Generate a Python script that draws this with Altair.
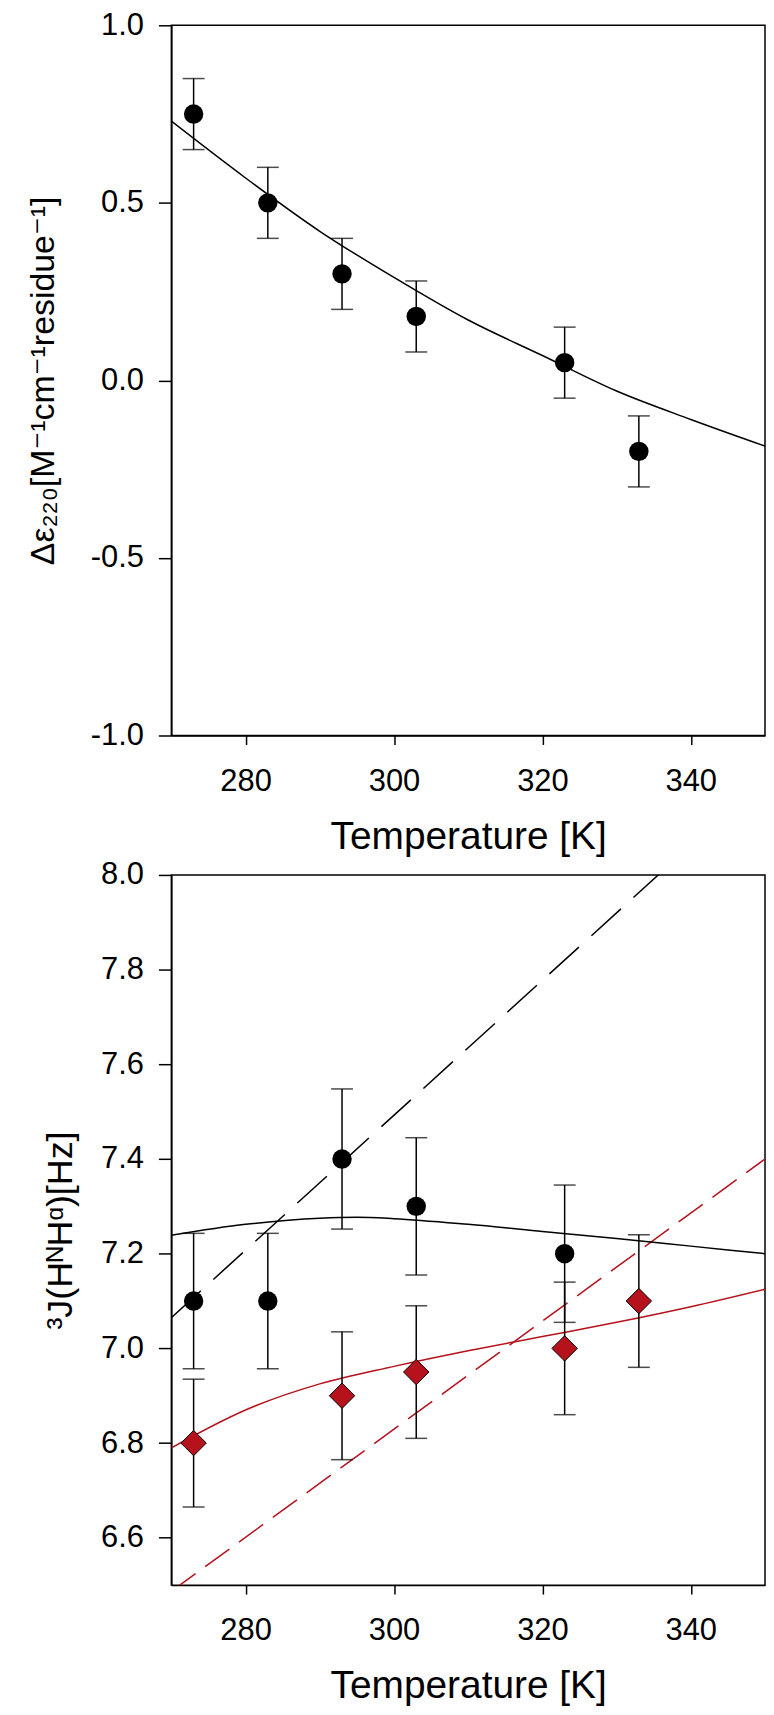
import altair as alt
import pandas as pd

# ---------------- data ----------------
# Top panel: CD signal vs temperature
cd_temp = [273, 283, 293, 303, 323, 333]
cd_value = [0.75, 0.50, 0.30, 0.18, 0.05, -0.20]
cd_err = [0.10, 0.10, 0.10, 0.10, 0.10, 0.10]
cd_fit_temp = [270, 280, 290, 300, 310, 320, 330, 340, 350]
cd_fit_value = [0.73, 0.57, 0.42, 0.29, 0.17, 0.07, -0.03, -0.11, -0.185]

# Bottom panel: 3J coupling vs temperature
jb_temp = [273, 283, 293, 303, 323]
jb_value = [7.10, 7.10, 7.40, 7.30, 7.20]
jb_err = [0.143, 0.143, 0.148, 0.145, 0.145]
jr_temp = [273, 293, 303, 323, 333]
jr_value = [6.80, 6.90, 6.95, 7.00, 7.10]
jr_err = [0.135, 0.135, 0.14, 0.14, 0.14]

jb_fit_temp = [270, 280, 290, 295, 300, 310, 320, 330, 340, 350]
jb_fit_value = [7.239, 7.262, 7.275, 7.277, 7.274, 7.262, 7.247, 7.232, 7.216, 7.20]
jb_lin_temp = [270, 350]
jb_lin_value = [7.065, 8.205]

jr_fit_temp = [270, 280, 290, 300, 310, 320, 330, 340, 350]
jr_fit_value = [6.79, 6.87, 6.925, 6.962, 6.995, 7.025, 7.055, 7.088, 7.125]
jr_lin_temp = [270, 350]
jr_lin_value = [6.487, 7.40]

x_ticks = [280, 300, 320, 340]
top_y_ticks = [-1.0, -0.5, 0.0, 0.5, 1.0]
bot_y_ticks = [6.6, 6.8, 7.0, 7.2, 7.4, 7.6, 7.8, 8.0]

RED = "#B5121B"
FONT = "Liberation Sans, Arial, DejaVu Sans, sans-serif"
W, H = 596, 713


def pts(t, v, e=None):
    d = pd.DataFrame({"T": t, "v": v})
    if e is not None:
        d["lo"] = [a - b for a, b in zip(v, e)]
        d["hi"] = [a + b for a, b in zip(v, e)]
    return d


x_axis = alt.Axis(values=x_ticks, format="d", title="Temperature [K]",
                  tickSize=9, labelPadding=22, titlePadding=21)
x_enc = alt.X("T:Q", scale=alt.Scale(domain=[270, 350], nice=False, zero=False), axis=x_axis)


def y_enc(field, domain, ticks, title, tpad, tsize):
    return alt.Y(field, type="quantitative",
                 scale=alt.Scale(domain=domain, nice=False, zero=False),
                 axis=alt.Axis(values=ticks, title=title, tickSize=13, labelPadding=15,
                               titlePadding=tpad, titleFontSize=tsize,
                               labelExpr="replace(format(datum.value, '.1f'), '\u2212', '-')"))


def errbars(df, ya):
    base = alt.Chart(df)
    rule = base.mark_rule(color="black", strokeWidth=1.5).encode(
        x=x_enc, y=y_enc("lo", *ya), y2="hi")
    cap_lo = base.mark_tick(color="black", orient="horizontal", size=22, thickness=1.5).encode(
        x=x_enc, y=y_enc("lo", *ya))
    cap_hi = base.mark_tick(color="black", orient="horizontal", size=22, thickness=1.5).encode(
        x=x_enc, y=y_enc("hi", *ya))
    return [rule, cap_lo, cap_hi]


def line(df, ya, color, dash=None):
    kw = dict(color=color, strokeWidth=1.5, clip=True, interpolate="monotone")
    if dash:
        kw["strokeDash"] = dash
    return alt.Chart(df).mark_line(**kw).encode(x=x_enc, y=y_enc("v", *ya))


# ---------------- top panel ----------------
TA = ([-1.0, 1.0], top_y_ticks, "Δε₂₂₀[M⁻¹cm⁻¹residue⁻¹]", 30, 34)
top_layers = errbars(pts(cd_temp, cd_value, cd_err), TA)
top_layers.append(line(pts(cd_fit_temp, cd_fit_value), TA, "black"))
top_layers.append(alt.Chart(pts(cd_temp, cd_value)).mark_point(
    shape="circle", filled=True, color="black", size=380, opacity=1).encode(
    x=x_enc, y=y_enc("v", *TA)))
top = alt.layer(*top_layers).properties(width=W, height=H)

# ---------------- bottom panel ----------------
BA = ([6.5, 8.0], bot_y_ticks, "³J(HᴺHᵅ)[Hz]", 21, 36)
bot_layers = []
bot_layers.append(line(pts(jb_lin_temp, jb_lin_value), BA, "black", [40, 17]))
bot_layers.append(line(pts(jr_lin_temp, jr_lin_value), BA, RED, [30, 12]))
bot_layers.append(line(pts(jb_fit_temp, jb_fit_value), BA, "black"))
bot_layers.append(line(pts(jr_fit_temp, jr_fit_value), BA, RED))
bot_layers += errbars(pts(jb_temp, jb_value, jb_err), BA)
bot_layers += errbars(pts(jr_temp, jr_value, jr_err), BA)
bot_layers.append(alt.Chart(pts(jb_temp, jb_value)).mark_point(
    shape="circle", filled=True, color="black", size=380, opacity=1).encode(
    x=x_enc, y=y_enc("v", *BA)))
bot_layers.append(alt.Chart(pts(jr_temp, jr_value)).mark_point(
    shape="diamond", filled=True, fill=RED, stroke="black", strokeWidth=1, size=650, opacity=1).encode(
    x=x_enc, y=y_enc("v", *BA)))
bottom = alt.layer(*bot_layers).properties(width=W, height=H)

chart = alt.vconcat(top, bottom, spacing=1).properties(
    padding={"left": 17, "top": -3, "right": 0, "bottom": 0},
    background="white"
).configure_view(
    stroke="black", strokeWidth=1.5
).configure_axis(
    grid=False, domainColor="black", domainWidth=1.5, tickColor="black", tickWidth=1.5,
    labelFont=FONT, titleFont=FONT, labelFontSize=31, titleFontSize=39,
    titleFontWeight="normal", labelColor="black", titleColor="black",
    labelOverlap=False, labelFlush=False
)

chart.save("out.html", embed_options={"renderer": "svg", "actions": False})
